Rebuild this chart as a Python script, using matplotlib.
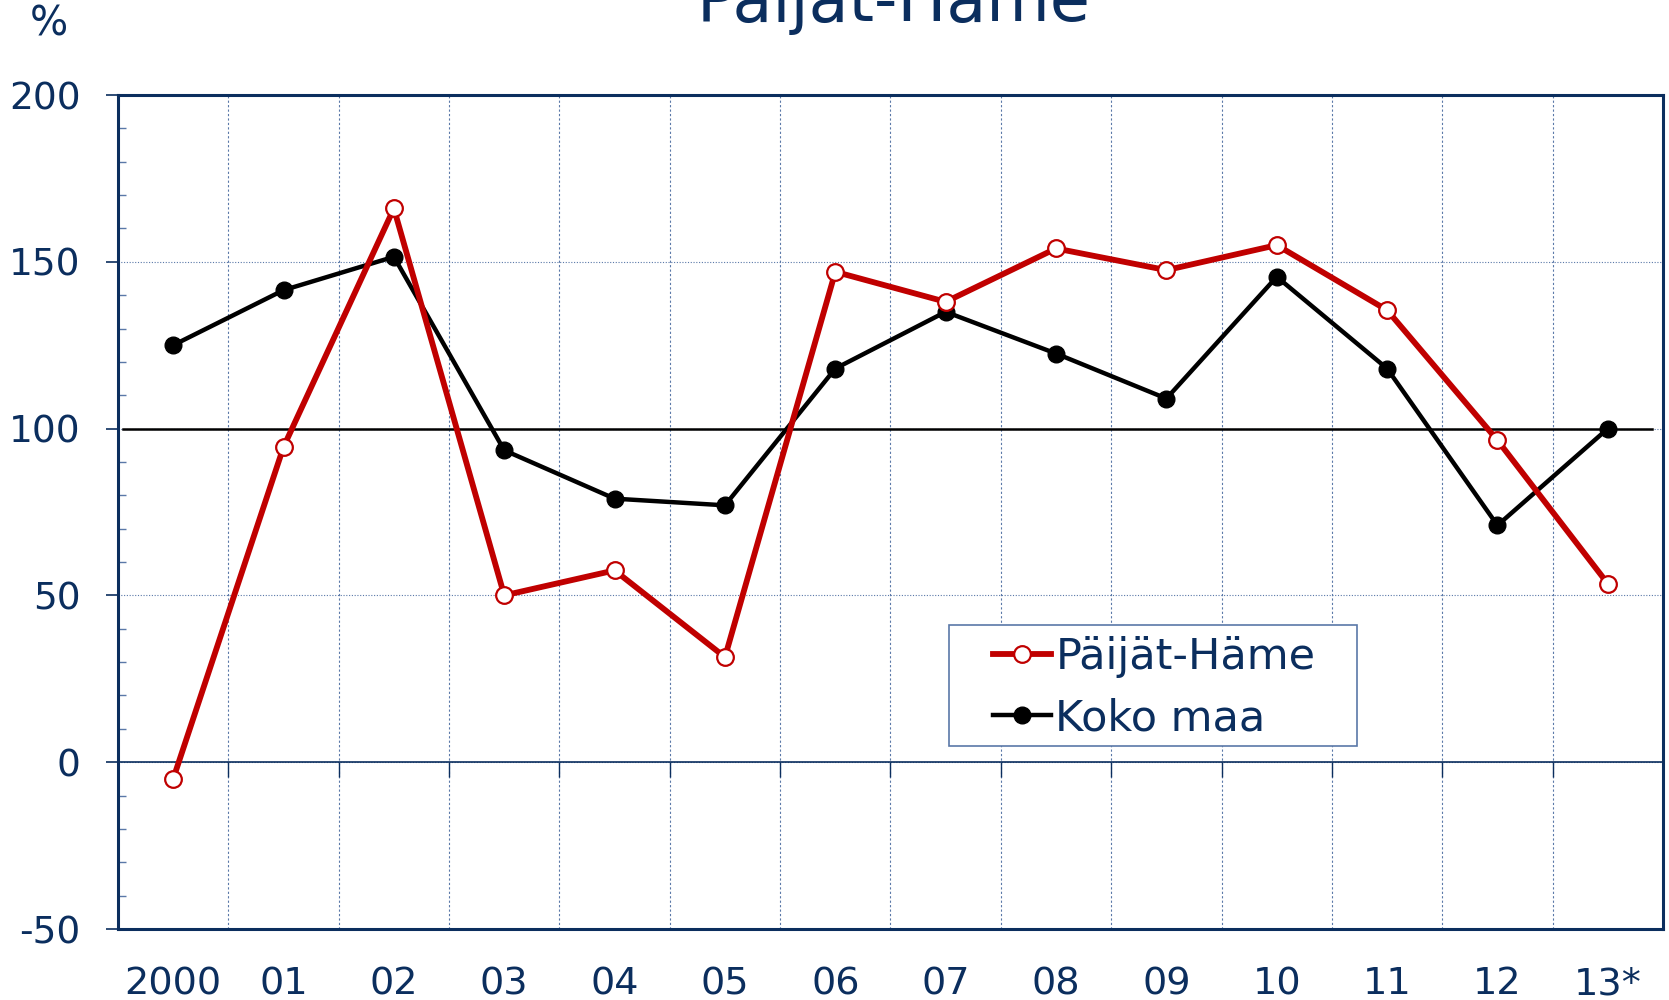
import matplotlib
matplotlib.use("Agg")
import matplotlib.pyplot as plt
from matplotlib.patches import Rectangle
import numpy as np

years = ["2000", "01", "02", "03", "04", "05", "06", "07", "08", "09", "10", "11", "12", "13*"]
paijat_hame = [-5, 94.5, 166, 50, 57.5, 31.5, 147, 138, 154, 147.5, 155, 135.5, 96.5, 53.5]
koko_maa = [125, 141.5, 151.5, 93.5, 79, 77, 118, 135, 122.5, 109, 145.5, 118, 71, 100]

NAVY = "#0B2E5E"
GRID = "#5A78A8"
RED = "#C00000"

plt.rcParams['font.family'] = ['DejaVu Sans']
plt.rcParams['axes.unicode_minus'] = False

fig = plt.figure(figsize=(16.69, 10), dpi=100)
ax = fig.add_axes([0.0707, 0.071, 0.9257, 0.834])

x = np.arange(len(years))
ax.set_xlim(-0.5, len(years) - 0.5)
ax.set_ylim(-50, 200)

# reference line at 100
ax.axhline(100, color="black", lw=1.8, zorder=2, xmin=0.003, xmax=0.993)
# axis line at 0
ax.axhline(0, color=NAVY, lw=1.2, zorder=2)

ax.plot(x, paijat_hame, color=RED, lw=4.2, marker="o", markersize=12,
        markerfacecolor="white", markeredgecolor=RED, markeredgewidth=1.6,
        label="Päijät-Häme", zorder=4)
ax.plot(x, koko_maa, color="black", lw=3.2, marker="o", markersize=12,
        markerfacecolor="black", markeredgecolor="black",
        label="Koko maa", zorder=3)

# y axis ticks
ax.set_yticks(np.arange(-50, 201, 50))
ax.set_yticks(np.arange(-50, 201, 10), minor=True)
ax.tick_params(axis="y", which="major", direction="out", length=9, width=1.2,
               color=NAVY, labelsize=27, labelcolor=NAVY, pad=18)
ax.tick_params(axis="y", which="minor", direction="in", length=6, width=1.0,
               color=GRID)
ax.grid(axis="y", which="major", color=GRID, linestyle=(0, (1, 1.5)), lw=0.8)

# x axis
ax.set_xticks(x)
ax.set_xticklabels(years)
bounds = np.arange(0.5, len(years) - 0.5, 1.0)
ax.set_xticks(bounds, minor=True)
ax.tick_params(axis="x", which="major", length=0, labelsize=27.5, labelcolor=NAVY, pad=27)
ax.tick_params(axis="x", which="minor", length=0)
ax.grid(axis="x", which="minor", color=GRID, linestyle=(0, (2, 2)), lw=0.8)
# small tick marks on the zero line
ax.vlines(bounds, -4.5, 0, color=NAVY, lw=1.0, zorder=2)

for s in ax.spines.values():
    s.set_color(NAVY)
    s.set_linewidth(2.2)

# legend frame drawn separately (inside the axes so the legend sits above it)
frame = Rectangle((949 / 1669, 1 - 746 / 1000), 408 / 1669, 121 / 1000,
                  transform=fig.transFigure, facecolor="white",
                  edgecolor=GRID, lw=1.2, zorder=5)
ax.add_artist(frame)
leg = ax.legend(loc="upper left", bbox_to_anchor=(993 / 1669, 1 - 636 / 1000),
                bbox_transform=fig.transFigure, fontsize=31, frameon=False,
                handlelength=1.35, handletextpad=0.1,
                borderpad=0, labelspacing=0.45, borderaxespad=0)
leg.set_zorder(6)
for t in leg.get_texts():
    t.set_color(NAVY)

fig.text(894 / 1669, 1 - 21 / 1000, "Päijät-Häme", ha="center", va="baseline",
         fontsize=47, color=NAVY)
fig.text(49 / 1669, 1 - 24 / 1000, "%", ha="center", va="center",
         fontsize=29, color=NAVY)

fig.savefig("out.png", dpi=100)
